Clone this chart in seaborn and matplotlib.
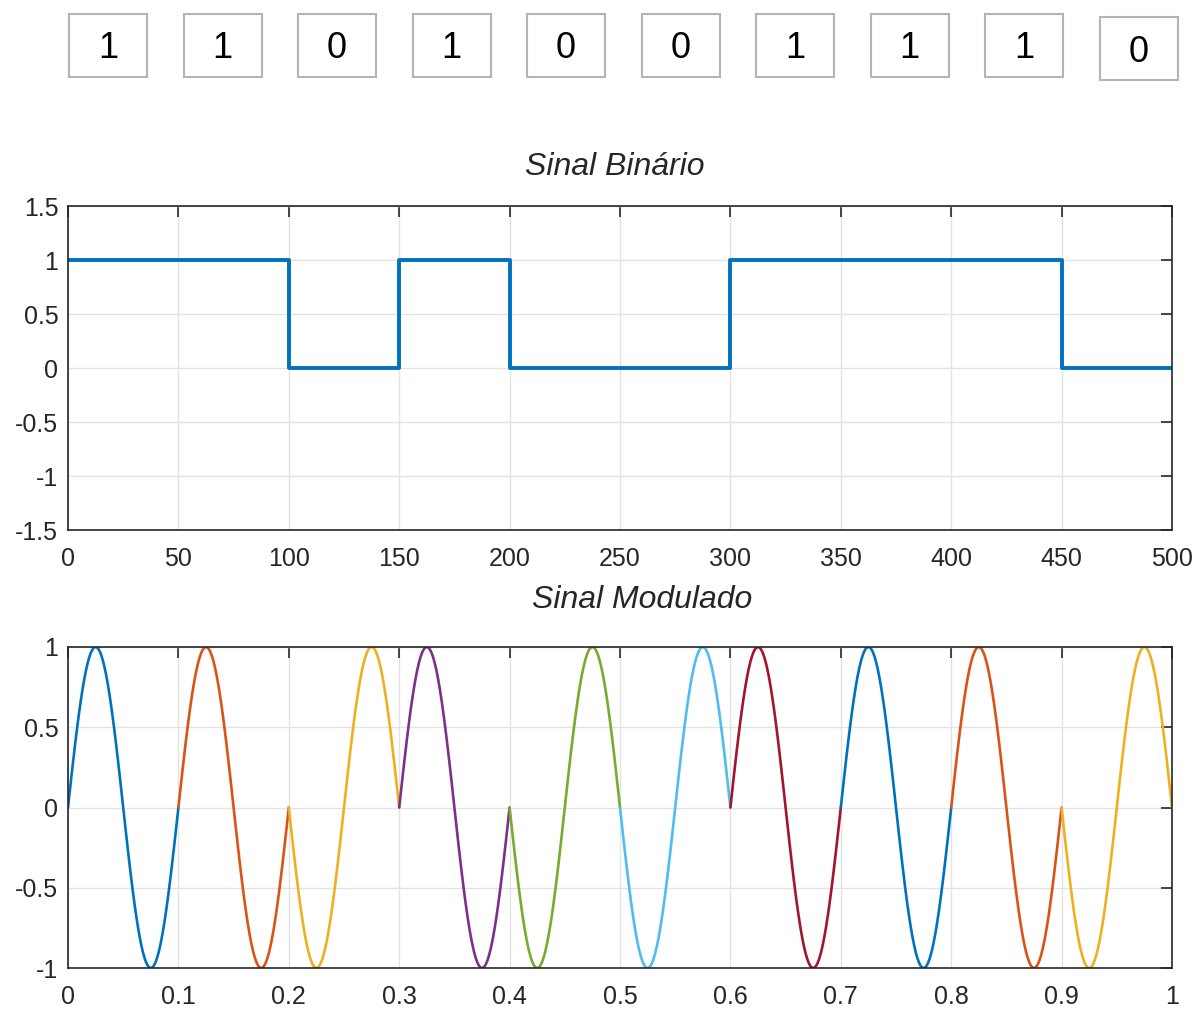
import numpy as np
import pandas as pd
import seaborn as sns
import matplotlib.pyplot as plt
from matplotlib.patches import Rectangle

sns.set_style("white")
plt.rcParams['font.family'] = ['Liberation Sans', 'DejaVu Sans']

# bits sent
bits = [1, 1, 0, 1, 0, 0, 1, 1, 1, 0]
samples_per_bit = 50          # binary signal: 500 samples
bit_time = 0.1                # modulated signal: each bit lasts 0.1 s
carrier_freq = 10             # Hz, one full cycle per bit
# MATLAB default colour order (one colour per bit segment)
seg_colors = ['#0072BD', '#D95319', '#EDB120', '#7E2F8E', '#77AC30',
              '#4DBEEE', '#A2142F', '#0072BD', '#D95319', '#EDB120']

# binary signal
n = np.arange(len(bits) * samples_per_bit + 1)
level = np.repeat(bits + [bits[-1]], [samples_per_bit] * len(bits) + [1])
binary = pd.DataFrame({'n': n, 'v': level})

# BPSK modulated signal, one segment per bit
rows = []
for i, b in enumerate(bits):
    t = np.linspace(i * bit_time, (i + 1) * bit_time, 120)
    s = np.sin(2 * np.pi * carrier_freq * t) * (1 if b else -1)
    rows.append(pd.DataFrame({'t': t, 's': s, 'seg': i}))
modulated = pd.concat(rows, ignore_index=True)

W, H = 1195, 1009
fig = plt.figure(figsize=(W / 100, H / 100), dpi=100)

# bit boxes on top
for i, b in enumerate(bits):
    x0 = 69 + 114.5 * i
    y0 = 14 if i < len(bits) - 1 else 17
    fig.patches.append(Rectangle((x0 / W, 1 - (y0 + 63) / H), 78 / W, 63 / H,
                                 transform=fig.transFigure, fill=False,
                                 edgecolor='#b4b4b4', lw=1.5))
    fig.text((x0 + 39) / W, 1 - (y0 + 35) / H, str(b), ha='center',
             va='center', fontsize=26, color='black')


def style(ax):
    ax.grid(True, color='#e3e3e3', lw=1)
    ax.tick_params(direction='in', top=True, right=True, length=8,
                   width=1.2, colors='#262626', labelsize=18)
    ax.tick_params(axis='x', pad=12)
    ax.tick_params(axis='y', pad=7)
    for sp in ax.spines.values():
        sp.set_color('#262626')
        sp.set_linewidth(1.2)
    ax.set_xlabel('')
    ax.set_ylabel('')


ax1 = fig.add_axes([68 / W, 1 - 530 / H, 1104 / W, 324 / H])
sns.lineplot(data=binary, x='n', y='v', ax=ax1, color='#0072BD', lw=2.8,
             drawstyle='steps-post')
ax1.set_xlim(0, 500)
ax1.set_ylim(-1.5, 1.5)
ax1.set_xticks(np.arange(0, 501, 50))
ax1.set_yticks(np.arange(-1.5, 1.51, 0.5))
ax1.set_yticklabels(['-1.5', '-1', '-0.5', '0', '0.5', '1', '1.5'])
style(ax1)
ax1.set_title('Sinal Binário', fontsize=23, style='italic', pad=22,
              color='#262626')
ax1.title.set_x(0.4955)

ax2 = fig.add_axes([68 / W, 1 - 968 / H, 1104 / W, 321 / H])
sns.lineplot(data=modulated, x='t', y='s', hue='seg', palette=seg_colors,
             ax=ax2, lw=1.9, legend=False)
ax2.set_xlim(0, 1)
ax2.set_ylim(-1, 1)
ax2.set_xticks(np.arange(0, 1.01, 0.1))
ax2.set_xticklabels(['0', '0.1', '0.2', '0.3', '0.4', '0.5', '0.6', '0.7',
                     '0.8', '0.9', '1'])
ax2.set_yticks([-1, -0.5, 0, 0.5, 1])
ax2.set_yticklabels(['-1', '-0.5', '0', '0.5', '1'])
style(ax2)
ax2.set_title('Sinal Modulado', fontsize=23, style='italic', pad=28,
              color='#262626')
ax2.title.set_x(0.52)

fig.savefig('out.png', dpi=100)
